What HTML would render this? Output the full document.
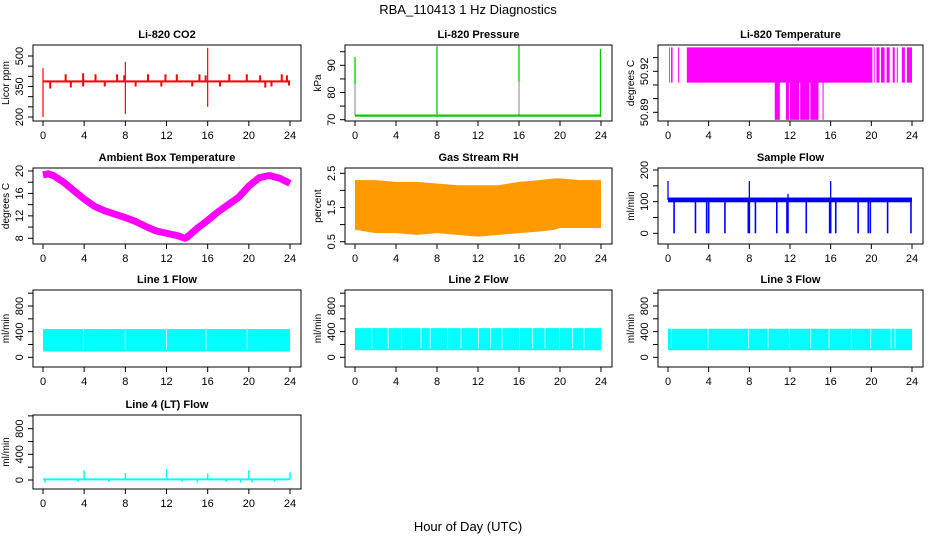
<!DOCTYPE html>
<html><head><meta charset="utf-8">
<style>
html,body{margin:0;padding:0;background:#fff;}
svg{display:block;font-family:"Liberation Sans",Arial,sans-serif;}
</style></head>
<body>
<svg id="chart" width="936" height="540" viewBox="0 0 936 540" xmlns="http://www.w3.org/2000/svg">
<text x="468" y="14" text-anchor="middle" font-size="13">RBA_110413  1 Hz Diagnostics</text>
<text x="468" y="531" text-anchor="middle" font-size="13">Hour of Day (UTC)</text>
</svg>
<script>
// ---- data arrays ----
const xTicks = [0,4,8,12,16,20,24];
const co2Base = 375;
const co2SpikeHours = [0,0,8,8,16,16,2.2,3.9,5.1,7.2,7.9,10.2,11.9,13.0,15.2,15.8,18.1,19.8,21.1,23.2,23.7,0.7,2.7,3.9,6.0,9.0,11.5,14.5,17.2,21.6,22.2,23.9];
const co2SpikeValues = [200,440,470,215,540,250,410,415,410,410,405,410,410,410,410,405,410,410,405,410,405,340,345,350,350,350,350,350,350,345,350,355];
const presBase = 71.5;
const presSpikeHours = [0,8,16,23.95];
const presSpikeLow = [83,71,84,71];
const presSpikeHigh = [93,97,97.5,96];
const tempUpperStart = [0.1,0.3,1.0,1.85,20.25,20.5,20.95,21.5,22.1,22.5,23.0,23.5];
const tempUpperEnd = [0.15,0.45,1.1,20.1,20.3,20.8,21.3,21.8,22.3,22.6,23.3,24.0];
const tempLowerStart = [10.5,11.6,12.0,13.0,14.0,15.2];
const tempLowerEnd = [11.0,11.9,12.9,13.9,14.8,15.3];
const ambHours = [0,0.5,1,2,3,4,5,6,7,8,9,10,11,12,13,13.8,14,15,16,17,18,19,20,21,22,23,24];
const ambValues = [19.3,19.5,19.2,18,16.5,15,13.7,12.9,12.3,11.7,11,10.1,9.3,8.9,8.5,8,8.2,9.8,11.2,12.7,14,15.3,17.3,18.8,19.2,18.7,17.8];
const rhHours = [0,2,4,6,8,10,12,14,16,18,19.5,20,22,24];
const rhHigh = [2.3,2.3,2.25,2.25,2.2,2.15,2.15,2.15,2.25,2.3,2.35,2.35,2.3,2.3];
const rhLow = [0.85,0.75,0.75,0.7,0.75,0.7,0.65,0.7,0.75,0.8,0.85,0.9,0.9,0.9];
const flowBase = 105;
const flowDropHours = [0.6,2.7,3.8,4.0,5.6,7.9,8.0,8.6,10.7,11.7,11.8,13.6,15.9,16.0,16.5,18.7,19.7,19.9,21.6,23.9];
const flowSpikeHours = [0,8,16,11.8];
const flowSpikeValues = [165,165,165,125];
const line1Low = 90, line1High = 440;
const line1Gaps = [3.9,7.95,11.95,15.8,19.8];
const line2Low = 110, line2High = 455;
const line2Gaps = [1.6,3.2,4.5,6.4,7.3,9.0,10.3,12.0,13.2,14.3,16.0,17.3,18.5,19.9,21.2,22.3];
const line3Low = 110, line3High = 445;
const line3Gaps = [0.3,3.9,7.9,9.8,11.9,14.0,15.8,18.0,19.9,21.9,22.3];
const line4Base = 10;
const line4SpikeHours = [4,8,12,16,20,24,0.2,3.4,6.4,13.5,15,17.8,19.2,20.3,22.5];
const line4SpikeValues = [150,110,170,100,150,120,-40,-30,-30,-30,-40,-30,-40,-40,-30];

// ---- layout ----
const NS="http://www.w3.org/2000/svg";
const svg=document.getElementById('chart');
const cols=[{l:33,r:301},{l:345,r:612},{l:658,r:923}];
const rowTop=[45,168,290,415], rowBot=[121,244,367,489];
function mk(parent,tag,attrs,name){
  const el=document.createElementNS(NS,tag);
  for(const k in attrs) el.setAttribute(k,attrs[k]);
  
  
  parent.appendChild(el);return el;
}
function panel(c,r,title,ytitle,v1,p1,v2,p2,yt,yl){
  const C=cols[c],t=rowTop[r],b=rowBot[r];
  const g=mk(svg,'g',{},'panel-'+title.toLowerCase().replace(/[^a-z0-9]+/g,'-'));
  const x=h=>C.l+10+h/24*(C.r-C.l-21);
  const y=v=>p1+(v-v1)*(p2-p1)/(v2-v1);
  mk(g,'text',{x:(C.l+C.r)/2,y:t-7,'text-anchor':'middle','font-size':11,'font-weight':'bold'},'panel-title').textContent=title;
  const clip='clip'+c+r;
  const cp=mk(g,'clipPath',{id:clip},'clip');
  mk(cp,'rect',{x:C.l,y:t,width:C.r-C.l,height:b-t},'clip-rect');
  const d=mk(g,'g',{'clip-path':'url(#'+clip+')'},'plot-area');
  mk(g,'rect',{x:C.l,y:t,width:C.r-C.l,height:b-t,fill:'none',stroke:'#000','stroke-width':1},'plot-box');
  xTicks.forEach(h=>{
    mk(g,'line',{x1:x(h),x2:x(h),y1:b,y2:b+5,stroke:'#000'},'x-tick');
    mk(g,'text',{x:x(h),y:b+18,'text-anchor':'middle','font-size':11},'x-tick-label').textContent=h;
  });
  yt.forEach(v=>{mk(g,'line',{x1:C.l,x2:C.l-5,y1:y(v),y2:y(v),stroke:'#000'},'y-tick');});
  yl.forEach(v=>{
    const tx=C.l-10,ty=y(v);
    mk(g,'text',{x:tx,y:ty,'text-anchor':'middle','font-size':11,transform:`rotate(-90 ${tx} ${ty})`},'y-tick-label').textContent=v;
  });
  const ax=C.l-24,ay=(t+b)/2;
  mk(g,'text',{x:ax,y:ay,'text-anchor':'middle','font-size':10,transform:`rotate(-90 ${ax} ${ay})`},'y-axis-title').textContent=ytitle;
  return {d,x,y,t,b};
}
function vline(p,h,a,bv,col,w,name){mk(p.d,'line',{x1:p.x(h),x2:p.x(h),y1:p.y(a),y2:p.y(bv),stroke:col,'stroke-width':w},name);}
function band(p,h0,h1,lo,hi,col,name){mk(p.d,'rect',{x:p.x(h0),y:p.y(hi),width:Math.max(0.8,p.x(h1)-p.x(h0)),height:p.y(lo)-p.y(hi),fill:col},name);}

// CO2
let P=panel(0,0,'Li-820 CO2','Licor ppm',200,117,500,56,[200,250,300,350,400,450,500],[200,350,500]);
band(P,0.05,24,co2Base-5,co2Base+5,'#f00','co2-line');
co2SpikeHours.forEach((h,i)=>vline(P,h,co2Base,co2SpikeValues[i],'#f00',i<6?1.2:2,'co2-spike'));
// Pressure
P=panel(1,0,'Li-820 Pressure','kPa',70,119.7,90,65.3,[70,75,80,85,90,95],[70,80,90]);
band(P,0,24,presBase-0.4,presBase+0.4,'#0c0','pressure-line');
presSpikeHours.forEach((h,i)=>vline(P,h,presBase,presSpikeHigh[i],'#333',0.6,'pressure-spike-trace'));
presSpikeHours.forEach((h,i)=>vline(P,h,presSpikeLow[i],presSpikeHigh[i],'#0c0',1.3,'pressure-spike'));
// Temperature
P=panel(2,0,'Li-820 Temperature','degrees C',50.89,112.3,50.92,71.3,[50.89,50.9,50.91,50.92,50.93],[50.89,50.92]);
tempUpperStart.forEach((s,i)=>band(P,s,tempUpperEnd[i],50.9117,50.9375,'#f0f','temp-upper-band'));
tempLowerStart.forEach((s,i)=>band(P,s,tempLowerEnd[i],50.8845,50.912,'#f0f','temp-lower-band'));
// Ambient
P=panel(0,1,'Ambient Box Temperature','degrees C',8,238.3,20,171,[8,10,12,14,16,18,20],[8,12,16,20]);
mk(P.d,'polyline',{points:ambHours.map((h,i)=>P.x(h)+','+P.y(ambValues[i])).join(' '),fill:'none',stroke:'#f0f','stroke-width':7,'stroke-linejoin':'round'},'ambient-temp-line');
// RH
P=panel(1,1,'Gas Stream RH','percent',0.5,241.7,2.5,173.3,[0.5,1,1.5,2,2.5],[0.5,1.5,2.5]);
{const top=rhHours.map((h,i)=>P.x(h)+','+P.y(rhHigh[i])),bot=rhHours.map((h,i)=>P.x(h)+','+P.y(rhLow[i])).reverse();
mk(P.d,'polygon',{points:top.concat(bot).join(' '),fill:'#ff9a00'},'rh-band');}
// Sample flow
P=panel(2,1,'Sample Flow','ml/min',0,233.3,200,170,[0,50,100,150,200],[0,100,200]);
band(P,0,24,flowBase-7,flowBase+8,'#00f','sample-flow-line');
flowDropHours.forEach(h=>vline(P,h,0,flowBase,'#00f',1.6,'sample-flow-drop'));
flowSpikeHours.forEach((h,i)=>vline(P,h,flowBase,flowSpikeValues[i],'#00f',1.3,'sample-flow-spike'));
// Lines 1-3
function flowPanel(c,r,title,lo,hi,gaps,name){
  const y0=r==3?480:357.3, y8=r==3?428.7:306;
  const p=panel(c,r,title,'ml/min',0,y0,800,y8,[0,200,400,600,800,1000],[0,400,800]);
  band(p,0,24,lo,hi,'#0ff',name);
  gaps.forEach(h=>band(p,h,h+0.03,lo+30,hi+20,'#fff',name+'-gap'));
  return p;
}
flowPanel(0,2,'Line 1 Flow',line1Low,line1High,line1Gaps,'line1-flow');
flowPanel(1,2,'Line 2 Flow',line2Low,line2High,line2Gaps,'line2-flow');
flowPanel(2,2,'Line 3 Flow',line3Low,line3High,line3Gaps,'line3-flow');
P=panel(0,3,'Line 4 (LT) Flow','ml/min',0,480,800,428.7,[0,200,400,600,800,1000],[0,400,800]);
band(P,0,24,line4Base-15,line4Base+15,'#0ff','line4-flow');
line4SpikeHours.forEach((h,i)=>vline(P,h,line4Base,line4SpikeValues[i],'#0ff',1.5,'line4-spike'));
</script>
</body></html>
